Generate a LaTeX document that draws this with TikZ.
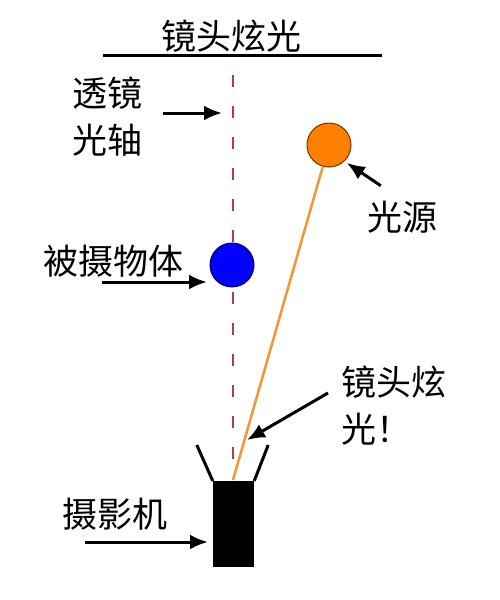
\documentclass[tikz,border=0pt]{standalone}
\usepackage{fontspec}
\setmainfont{Noto Sans CJK SC}
\usetikzlibrary{positioning,arrows.meta}
\definecolor{axisred}{RGB}{180,60,80}
\definecolor{srcorange}{RGB}{255,128,0}
\definecolor{rayorange}{RGB}{240,150,50}
\tikzset{arr/.style={-{Latex[length=18pt,width=15pt]},line width=3pt},
  lbl/.style={inner sep=0pt,align=left,font=\fontsize{35}{47}\selectfont}}
\begin{document}
\begin{tikzpicture}[x=1pt,y=-1pt]
\useasboundingbox (0,0) rectangle (500,600);
    \node[lbl] (1) at (231.5,36) {镜头炫光};
    \coordinate (1a) at (103,55);
    \coordinate (1b) at (382,55);
    \draw[line width=3pt] (1a) -- (1b);
    \coordinate (2) at (233,75);
    \coordinate (3) at (233,480);
    \draw[axisred,line width=2.5pt,dash pattern=on 12pt off 19pt] (2) -- (3);
    \node[circle,fill=srcorange,draw={rgb,255:red,110;green,55;blue,0},line width=1pt,minimum size=44pt,inner sep=0pt] (4) at (329,145) {};
    \node[circle,fill=blue,draw={rgb,255:red,0;green,0;blue,90},line width=1pt,minimum size=44pt,inner sep=0pt] (5) at (232,265) {};
    \draw[rayorange,line width=2.5pt] (4) -- (3);
    \node[fill=black,minimum width=41pt,minimum height=86pt,inner sep=0pt,anchor=north] (6) at (233.5,481) {};
    \draw[line width=3pt] (6.north west) -- ++(-16,-36);
    \draw[line width=3pt] (6.north east) -- ++(14,-36);
    \node[lbl] (7) at (107.5,117) {透镜\\光轴};
    \coordinate (7a) at (222,113);
    \draw[arr] ([shift={(20,-4)}]7.east) -- (7a);
    \node[lbl] (8) at (402,217) {光源};
    \draw[arr] ([shift={(14,-15)}]8.north west) -- ([shift={(2,2)}]4.-45);
    \node[lbl] (9) at (113.5,261) {被摄物体};
    \coordinate (9a) at (207,282);
    \coordinate (9b) at (102,282);
    \draw[arr] (9b) -- (9a);
    \node[lbl,anchor=north west] (10) at (341,366) {镜头炫\\光！};
    \coordinate (10a) at (247,440);
    \draw[arr] ([shift={(-13,27)}]10.north west) -- (10a);
    \node[lbl] (11) at (115,514) {摄影机};
    \coordinate (11a) at (208,542);
    \coordinate (11b) at (85,542);
    \draw[arr] (11b) -- (11a);
\end{tikzpicture}
\end{document}
